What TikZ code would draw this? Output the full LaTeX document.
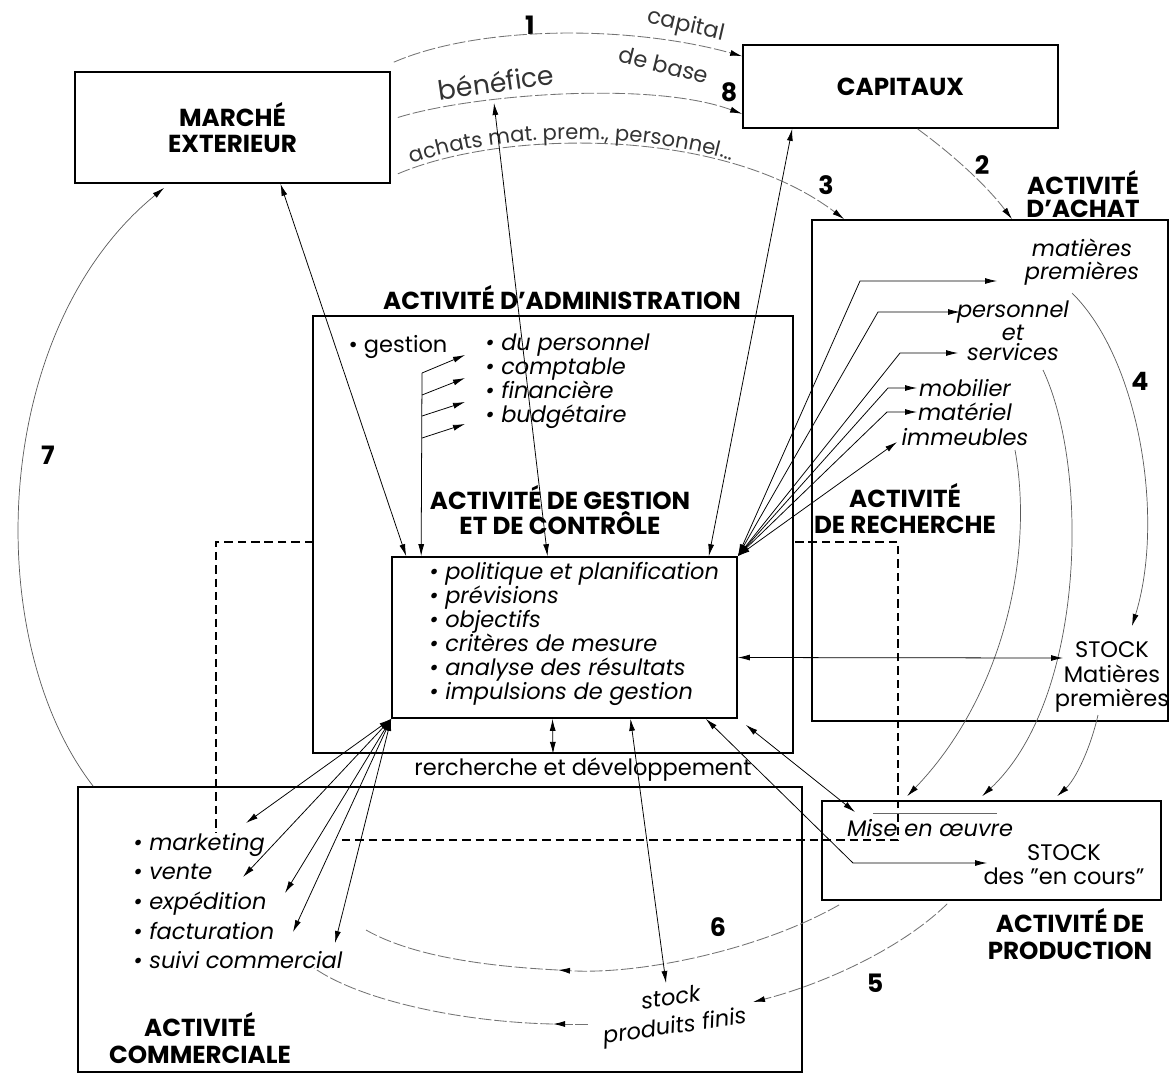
\documentclass[tikz,border=0pt]{standalone}
\usepackage{fontspec}
\setmainfont{Poppins}
\usetikzlibrary{arrows.meta,fit,calc,decorations.text}

\begin{document}
\begin{tikzpicture}[x=0.025cm, y=-0.025cm,
        font=\fontsize{16}{17}\selectfont,
        >={Latex[length=3mm,width=1.5mm]}, % pointes
        boite/.style={draw, line width=1.2pt, inner sep=0pt},
        titre/.style={font=\fontsize{17.5}{19}\selectfont\bfseries, align=center},
        liste/.style={font=\fontsize{16}{17}\selectfont\itshape, align=left, anchor=west, inner sep=0pt},
        article/.style={font=\fontsize{16}{16.5}\selectfont\itshape, align=center, inner sep=0pt},
        num/.style={font=\fontsize{18}{18}\selectfont\bfseries},
        etiq/.style={font=\fontsize{16}{16}\selectfont, text=black!80, inner sep=1pt},
        lien/.style={line width=0.55pt},
        flux/.style={-{Latex[length=3mm,width=1.5mm,black]}, draw=black!55, line width=0.6pt, dash pattern=on 9pt off 2pt},
        cycle/.style={-{Latex[length=3mm,width=1.5mm,black]}, draw=black!65, line width=0.5pt},
        cadre/.style={line width=1.1pt, dash pattern=on 6pt off 3.5pt}
    ]
    \useasboundingbox (0,0) rectangle (1170,1074);

    % cadre en tirets
    \draw[cadre] (313,542) -- (216,542) -- (216,840) -- (898,840) -- (898,542) -- (793,542);

    % blocs
    \node[boite, fit={(75,72) (390,183)}] (marche) {};
    \node[boite, fit={(743,45) (1058,128)}] (capitaux) {};
    \node[boite, fit={(812,220) (1168,721)}] (achat) {};
    \node[boite, fit={(313,316) (793,753)}] (admin) {};
    \node[boite, fit={(392,557) (737,718)}] (gestion) {};
    \node[boite, fit={(78,787) (802,1072)}] (commerce) {};
    \node[boite, fit={(822,801) (1161,900)}] (production) {};

    % titres
    \node[titre] (marchet) at (marche) {MARCHÉ\\EXTERIEUR};
    \node[titre] (capitauxt) at (capitaux) {CAPITAUX};
    \node[titre, font=\fontsize{17.5}{16.5}\selectfont\bfseries] (achatt) at (1083,194) {ACTIVITÉ\\D'ACHAT};
    \node[titre] (admint) at (562,298) {ACTIVITÉ D'ADMINISTRATION};
    \node[titre, font=\fontsize{17.5}{18}\selectfont\bfseries] (gestiont) at (560,510) {ACTIVITÉ DE GESTION\\ET DE CONTRÔLE};
    \node[titre, font=\fontsize{17.5}{18.5}\selectfont\bfseries] (recherchet) at (905,509) {ACTIVITÉ\\DE RECHERCHE};
    \node[titre] (productiont) at (1070,934) {ACTIVITÉ DE\\PRODUCTION};
    \node[titre, font=\fontsize{17.5}{19.5}\selectfont\bfseries] (commercet) at (200,1038) {ACTIVITÉ\\COMMERCIALE};

    % textes
    \node (gestionlab) at (398,347) {\textbullet\ gestion};
    \node[liste] (gestitems) at (485,381) {\textbullet\ du personnel\\\textbullet\ comptable\\\textbullet\ financière\\\textbullet\ budgétaire};
    \node[liste] (gestliste) at (429,634) {\textbullet\ politique et planification\\\textbullet\ prévisions\\\textbullet\ objectifs\\\textbullet\ critères de mesure\\\textbullet\ analyse des résultats\\\textbullet\ impulsions de gestion};
    \node[liste, fill=white, font=\fontsize{16}{21.1}\selectfont\itshape] (comliste) at (133,901) {\textbullet\ marketing\\\textbullet\ vente\\\textbullet\ expédition\\\textbullet\ facturation\\\textbullet\ suivi commercial};
    \node[article] (mp) at (1082,262) {matières\\premières};
    \node[article, font=\fontsize{16}{14.5}\selectfont\itshape] (personnel) at (1013,331) {personnel\\et\\services};
    \node[article] (mobilier) at (965,388) {mobilier};
    \node[article] (materiel) at (965,412) {matériel};
    \node[article] (immeubles) at (965,437) {immeubles};
    \node[align=center, font=\fontsize{16}{17.5}\selectfont] (stockmp) at (1112,677) {STOCK\\Matières\\premières};
    \node[article] (mise) at (930,828) {Mise en œuvre};
    \node[align=center] (encours) at (1064,865) {STOCK\\des "en cours"};
    \node (rd) at (583,770) {rercherche et développement};
    \node[article, rotate=8, font=\fontsize{16}{20}\selectfont\itshape] (spf) at (673,1014) {stock\\produits finis};

    \node[etiq, rotate=-13] (capital) at (686,26) {capital};
    \node[etiq, rotate=-14] (debase) at (664,65) {de base};
    \node[etiq, rotate=8, font=\fontsize{19}{19}\selectfont] (benefice) at (496,82) {bénéfice};

    % numeros
    \node[num] (n1) at (530,25) {1};
    \node[num] (n2) at (982,165) {2};
    \node[num] (n3) at (826,185) {3};
    \node[num] (n4) at (1140,381) {4};
    \node[num] (n5) at (875,983) {5};
    \node[num] (n6) at (718,927) {6};
    \node[num] (n7) at (48,455) {7};
    \node[num] (n8) at (729,92) {8};

    % points libres
    \coordinate (benefhaut) at (494,103);
    \coordinate (mpbas) at (1072,293);
    \coordinate (stockhaut) at (1132,626);
    \coordinate (immbas) at (1015,450);
    \coordinate (servbas) at (1043,370);
    \coordinate (stockbas) at (1098,715);
    \coordinate (spfdroite) at (753,1002);
    \coordinate (flux6) at (558,970);
    \coordinate (flux6fin) at (366,930);
    \coordinate (spfgauche) at (588,1024);
    \coordinate (sortie) at (553,1024);
    \coordinate (suivi) at (314,968);

    % flux du haut
    \draw[flux] ($(marche.north east)+(3,-9)$) .. controls (480,25) and (630,25) .. ($(capitaux.north west)+(0,12)$);
    \draw[flux] ($(marche.east)+(7,-10)$) .. controls (470,95) and (650,80) .. ($(capitaux.south west)+(0,-15)$);
    \draw[flux] ($(marche.south east)+(7,-10)$) .. controls (500,130) and (720,125) .. ($(achat.north west)+(33,0)$);
    \path[decorate, decoration={text along path, text align={left indent=0.4cm}, raise=3pt,
        text={|\fontsize{15}{15}\selectfont\color{black!80}|achats mat. prem., personnel...}}]
        ($(marche.south east)+(7,-10)$) .. controls (500,130) and (720,125) .. ($(achat.north west)+(33,0)$);
    \draw[flux] ($(capitaux.south)+(17,0)$) .. controls (960,160) and (990,190) .. ($(achat.north)+(22,0)$);

    % cycle
    \draw[cycle] ($(commerce.north west)+(16,0)$) .. controls (-20,640) and (-10,330) .. ($(marche.south west)+(90,4)$);
    \draw[cycle] (mpbas) .. controls (1140,360) and (1165,520) .. (stockhaut);
    \draw[cycle] (immbas) .. controls (1035,560) and (1000,700) .. ($(production.north west)+(86,-4)$);
    \draw[cycle] (servbas) .. controls (1090,470) and (1085,700) .. ($(production.north west)+(161,-4)$);
    \draw[cycle] (stockbas) .. controls (1090,750) and (1075,780) .. ($(production.north west)+(236,-4)$);
    \draw[flux] ($(production.south west)+(126,3)$) .. controls (900,950) and (820,985) .. (spfdroite);
    \draw[flux] ($(production.south west)+(18,4)$) .. controls (760,950) and (640,975) .. (flux6);
    \draw[flux, -] (flux6) .. controls (480,966) and (410,955) .. (flux6fin);
    \draw[flux] (spfgauche) -- (sortie);
    \draw[flux, -] (sortie) .. controls (460,1022) and (360,1000) .. (suivi);
    \draw[black!60, line width=0.5pt] (873,813) -- (997,813);

    % liaisons de gestion
    \draw[lien, <->] ($(marche.south)+(48,0)$) -- ($(gestion.north west)+(15,0)$);
    \draw[lien, <->] (benefhaut) -- ($(gestion.north)+(-17,0)$);
    \draw[lien, <->] ($(capitaux.south west)+(50,0)$) -- ($(gestion.north east)+(-29,0)$);
    \draw[lien, ->] (422,373) -- ($(gestion.north west)+(30,0)$);
    \foreach \ya/\yb in {373/355, 395/378, 416/402, 438/424}
        \draw[lien, ->] (422,\ya) -- (465,\yb);

    \draw[lien, <->] (gestion.north east) -- (860,281) -- (997,281);
    \draw[lien, <->] (gestion.north east) -- (878,312) -- (960,312);
    \draw[lien, <->] (gestion.north east) -- (900,353) -- (958,353);
    \draw[lien, <->] (gestion.north east) -- (888,388) -- (917,388);
    \draw[lien, <->] (gestion.north east) -- (887,412) -- (917,412);
    \draw[lien, <->] (gestion.north east) -- (897,442);

    \draw[lien, <->] ($(gestion.east)+(0,20)$) -- (1063,658);
    \draw[lien, <->] ($(gestion.south)+(-12,0)$) -- (admin.south);
    \draw[lien, <->] ($(gestion.south)+(66,0)$) -- (666,983);
    \draw[lien, <->] ($(gestion.south east)+(-32,0)$) -- (853,863) -- (987,863);
    \draw[lien, <->] ($(gestion.south east)+(8,6)$) -- (855,812);
    \foreach \xa/\ya in {246/823, 243/877, 285/893, 293/932, 335/943}
        \draw[lien, <->] (gestion.south west) -- (\xa,\ya);

\end{tikzpicture}
\end{document}
